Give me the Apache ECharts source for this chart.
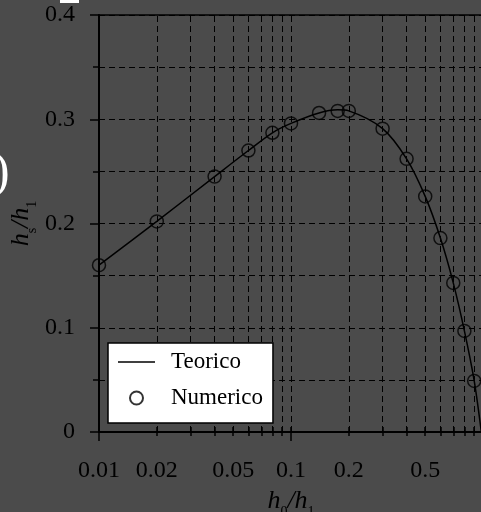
<!DOCTYPE html>
<html>
<head>
<meta charset="utf-8">
<script src="https://cdn.jsdelivr.net/npm/echarts@6/dist/echarts.min.js"></script>
<style>
html, body { margin: 0; background: #4b4b4b; }
#c { width: 481px; height: 512px; }
</style>
</head>
<body>
<div id="c"></div>
<script>
// numerico (circles)
const numX = [0.01, 0.02, 0.04, 0.06, 0.08, 0.1, 0.14, 0.175, 0.2, 0.3, 0.4, 0.5, 0.6, 0.7, 0.8, 0.9];
const numY = [0.160, 0.202, 0.245, 0.270, 0.287, 0.296, 0.306, 0.308, 0.308, 0.291, 0.262, 0.226, 0.186, 0.143, 0.097, 0.049];
// teorico (line)
const theoX = [0.01, 0.02, 0.04, 0.06, 0.08, 0.1, 0.14, 0.175, 0.2, 0.3, 0.4, 0.5, 0.6, 0.7, 0.8, 0.9, 0.98];
const theoY = [0.160, 0.202, 0.245, 0.270, 0.287, 0.296, 0.306, 0.309, 0.308, 0.291, 0.262, 0.226, 0.186, 0.143, 0.097, 0.049, 0.0];

// tick / grid positions
const xLabelVals = [0.01, 0.02, 0.05, 0.1, 0.2, 0.5];
const xMajorTicks = [0.01, 0.1, 1];
const xMinorTicks = [0.01, 0.02, 0.03, 0.04, 0.05, 0.06, 0.07, 0.08, 0.09, 0.1, 0.2, 0.3, 0.4, 0.5, 0.6, 0.7, 0.8, 0.9];
const xGridVals = [0.02, 0.03, 0.04, 0.05, 0.06, 0.07, 0.08, 0.09, 0.1, 0.2, 0.3, 0.4, 0.5, 0.6, 0.7, 0.8, 0.9];

const FONT = 'Liberation Serif';
const dash = { color: '#000', width: 1, type: [6, 4] };

const subRich = {
  i: { fontFamily: FONT, fontStyle: 'italic', fontSize: 26, lineHeight: 26, verticalAlign: 'top', color: '#000' },
  s: { fontFamily: FONT, fontSize: 14, lineHeight: 31, verticalAlign: 'bottom', color: '#000' },
};

const logAxis = (extra) => Object.assign({
  type: 'log', logBase: 10, min: 0.01, max: 1,
  gridIndex: 0, position: 'bottom',
  axisLine: { show: false }, axisLabel: { show: false },
  splitLine: { show: false }, minorTick: { show: false },
}, extra);

const chart = echarts.init(document.getElementById('c'), null, { renderer: 'canvas' });
chart.setOption({
  animation: false,
  backgroundColor: '#4b4b4b',
  grid: {
    left: 99, top: 15, width: 384, height: 417, outerBoundsMode: 'none', containLabel: false,
    show: true, borderColor: '#000', borderWidth: 1.5, backgroundColor: 'transparent',
  },
  xAxis: [
    logAxis({
      axisLine: { show: true, onZero: false, lineStyle: { color: '#000', width: 2 } },
      axisTick: { show: true, customValues: xMajorTicks, length: 9, lineStyle: { color: '#000', width: 1.5 } },
      axisLabel: {
        show: true, customValues: xLabelVals, margin: 27,
        fontFamily: FONT, fontSize: 24, color: '#000',
        formatter: (v) => String(v),
      },
      name: '{i|h}{s|0}{i|/h}{s|1}',
      nameLocation: 'middle', nameGap: 56, nameMoveOverlap: false,
      nameTextStyle: { rich: subRich },
    }),
    logAxis({ axisTick: { show: true, inside: true, customValues: xMinorTicks, length: 5, lineStyle: { color: '#000', width: 1.5 } } }),
    logAxis({ axisTick: { show: true, customValues: xMinorTicks, length: 4, lineStyle: { color: '#000', width: 1.5 } } }),
  ],
  yAxis: {
    type: 'value', min: 0, max: 0.4, interval: 0.1,
    axisLine: { show: true, onZero: false, lineStyle: { color: '#000', width: 2 } },
    axisTick: { show: true, length: 9, lineStyle: { color: '#000', width: 1.5 } },
    minorTick: { show: true, splitNumber: 2, length: 6, lineStyle: { color: '#000', width: 1.5 } },
    splitLine: { show: true, lineStyle: dash },
    minorSplitLine: { show: true, lineStyle: dash },
    axisLabel: {
      margin: 24, fontFamily: FONT, fontSize: 24, color: '#000',
      formatter: (v) => (v === 0 ? '0' : v.toFixed(1)),
    },
    name: '{i|h}{s|s}{i|/h}{s|1}',
    nameLocation: 'middle', nameRotate: 90, nameGap: 60, nameMoveOverlap: false,
    nameTextStyle: { rich: subRich },
  },
  legend: {
    orient: 'vertical', left: 108, top: 343, z: 100,
    backgroundColor: '#fff', borderColor: '#000', borderWidth: 1.5,
    padding: [7, 10, 13, 10],
    itemWidth: 37, itemHeight: 13, itemGap: 12,
    textStyle: { fontFamily: FONT, fontSize: 23, lineHeight: 24, color: '#000', padding: [0, 0, 0, 11] },
    data: [
      { name: 'Teorico', icon: 'path://M0,0 H37 V1.5 H0 Z', symbolKeepAspect: true, itemStyle: { color: '#000', borderWidth: 0 } },
      { name: 'Numerico', icon: 'circle', itemStyle: { color: '#fff', borderColor: '#000', borderWidth: 2 } },
    ],
  },
  graphic: [
    { type: 'rect', shape: { x: 60, y: 0, width: 19, height: 3 }, style: { fill: '#fff' } },
    { type: 'text', left: -7, top: 149, style: { text: ')', font: '50px ' + FONT, fill: '#fff' } },
  ],
  series: [
    {
      name: 'grid', type: 'line', data: [], silent: true, z: 1,
      markLine: {
        silent: true, symbol: ['none', 'none'], label: { show: false },
        lineStyle: dash, animation: false, z: 1,
        data: xGridVals.map((v) => ({ xAxis: v })),
      },
    },
    {
      name: 'Teorico', type: 'line', symbol: 'none', smooth: 0.3,
      data: theoX.map((x, i) => [x, theoY[i]]),
      lineStyle: { color: '#000', width: 1.5 }, itemStyle: { color: '#000' },
      z: 3,
    },
    {
      name: 'Numerico', type: 'scatter', symbol: 'circle', symbolSize: 13,
      data: numX.map((x, i) => [x, numY[i]]),
      itemStyle: { color: 'transparent', borderColor: '#000', borderWidth: 1.5 },
      z: 4,
    },
  ],
});
</script>
</body>
</html>
